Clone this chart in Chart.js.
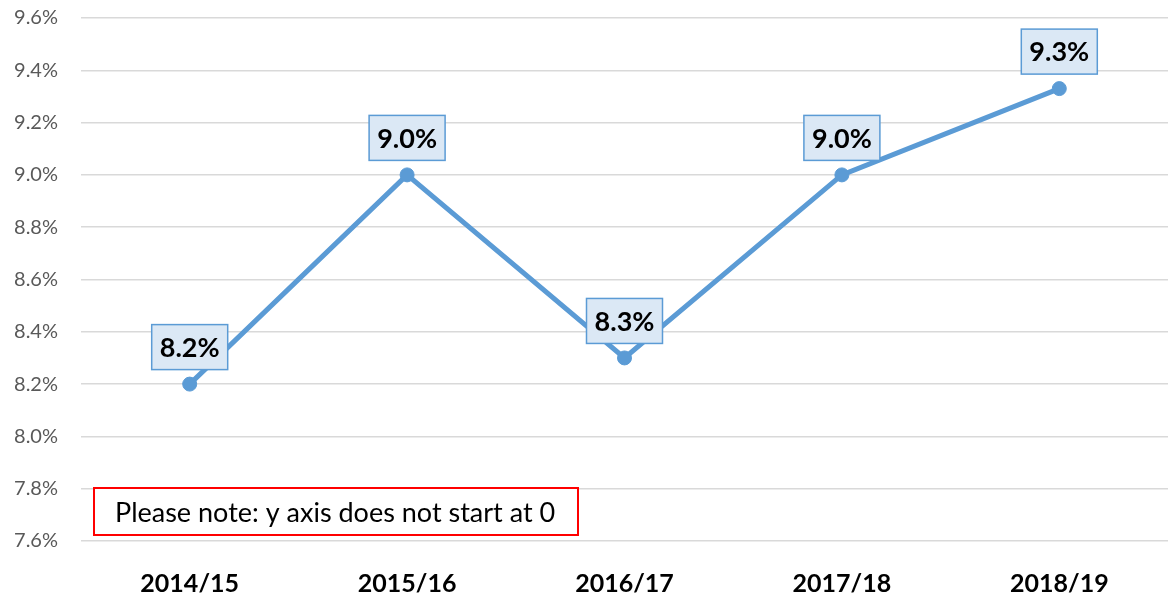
<!DOCTYPE html>
<html>
<head>
<meta charset="utf-8">
<script src="https://cdn.jsdelivr.net/npm/chart.js@4/dist/chart.umd.min.js"></script>
<style>
  html, body { margin: 0; padding: 0; background: #fff; overflow: hidden; }
  #wrap { width: 1168px; height: 599px; position: relative; }
</style>
</head>
<body>
<div id="wrap"><canvas id="rateChart"></canvas></div>
<script>
const years = ['2014/15', '2015/16', '2016/17', '2017/18', '2018/19'];
const rates = [8.2, 9.0, 8.3, 9.0, 9.33];
const yRange = [7.6, 9.6];
const yStep = 0.2;
const noteText = 'Please note: y axis does not start at 0';

const FONT = 'Lato, "DejaVu Sans", sans-serif';
const BLUE = '#5b9bd5';

// boxed value labels above each point
const valueLabels = {
  id: 'valueLabels',
  afterDatasetsDraw(chart) {
    const ctx = chart.ctx;
    const meta = chart.getDatasetMeta(0);
    ctx.save();
    ctx.font = 'bold 27px ' + FONT;
    ctx.textAlign = 'center';
    ctx.textBaseline = 'middle';
    meta.data.forEach((pt, i) => {
      const txt = rates[i].toFixed(1) + '%';
      const w = 76, h = 45;
      const cx = pt.x, cy = pt.y - 37;
      ctx.fillStyle = '#dbe8f5';
      ctx.fillRect(cx - w / 2, cy - h / 2, w, h);
      ctx.strokeStyle = BLUE;
      ctx.lineWidth = 1.5;
      ctx.strokeRect(cx - w / 2, cy - h / 2, w, h);
      ctx.fillStyle = '#000';
      ctx.fillText(txt, cx, cy + 1);
    });
    ctx.restore();
  }
};

// red note box at the bottom left
const notePlugin = {
  id: 'notePlugin',
  afterDraw(chart) {
    const ctx = chart.ctx;
    ctx.save();
    ctx.fillStyle = '#fff';
    ctx.fillRect(94, 488, 484, 47);
    ctx.strokeStyle = '#ff0000';
    ctx.lineWidth = 2;
    ctx.strokeRect(94, 488, 484, 47);
    ctx.fillStyle = '#000';
    ctx.font = '27px ' + FONT;
    ctx.textBaseline = 'middle';
    ctx.fillText(noteText, 115, 513);
    ctx.restore();
  }
};

new Chart(document.getElementById('rateChart'), {
  type: 'line',
  data: {
    labels: years,
    datasets: [{
      data: rates,
      borderColor: BLUE,
      backgroundColor: BLUE,
      borderWidth: 5,
      pointRadius: 7,
      pointBorderWidth: 1,
      tension: 0,
      fill: false
    }]
  },
  options: {
    responsive: true,
    maintainAspectRatio: false,
    animation: false,
    layout: { padding: 0, autoPadding: false },
    plugins: {
      legend: { display: false },
      tooltip: { enabled: false }
    },
    scales: {
      x: {
        offset: true,
        grid: { display: false },
        border: { display: false },
        ticks: {
          color: '#000',
          font: { family: FONT, size: 25, weight: 'bold' },
          padding: 20,
          maxRotation: 0
        },
        afterFit(scale) {
          scale.height = 58;
          scale.paddingLeft = 0;
          scale.paddingRight = 0;
        }
      },
      y: {
        min: yRange[0],
        max: yRange[1],
        grid: { color: '#d9d9d9', lineWidth: 1.5, drawTicks: false },
        border: { display: false },
        ticks: {
          stepSize: yStep,
          color: '#595959',
          font: { family: FONT, size: 20 },
          padding: 23,
          callback: v => v.toFixed(1) + '%'
        },
        afterFit(scale) {
          scale.width = 81;
          scale.paddingTop = 18;
          scale.paddingBottom = 0;
          scale.paddingLeft = 0;
          scale.paddingRight = 0;
        }
      }
    }
  },
  plugins: [valueLabels, notePlugin]
});
</script>
</body>
</html>
